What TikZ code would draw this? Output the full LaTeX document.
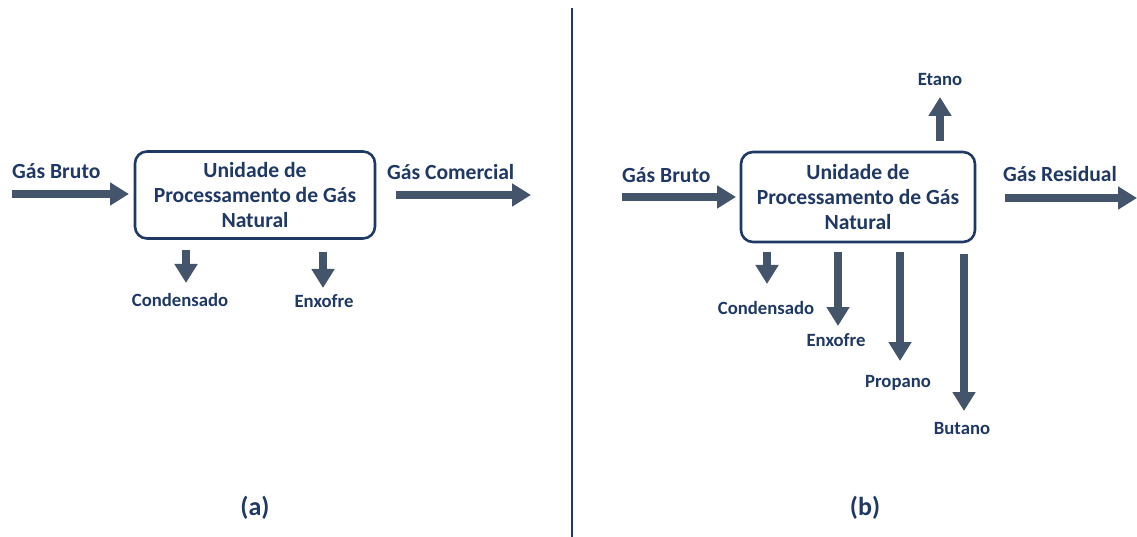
\documentclass[tikz,border=0pt]{standalone}
\usepackage{fontspec}
\setmainfont{Carlito}
\usetikzlibrary{arrows.meta}
\definecolor{navy}{HTML}{1F3864}
\definecolor{slate}{HTML}{44546A}
\tikzset{
  flow/.style={draw=slate, line width=8pt,
    -{Triangle[length=19pt,width=22pt]}},
  unit/.style={draw=navy, line width=2.6pt, rounded corners=12pt,
    align=center, text=navy, font=\fontsize{21.6}{25}\selectfont\bfseries,
    inner sep=0pt},
  biglabel/.style={text=navy, font=\fontsize{21.6}{25}\selectfont\bfseries, inner sep=0pt},
  smalllabel/.style={text=navy, font=\fontsize{18.7}{22}\selectfont\bfseries, inner sep=0pt},
  panel/.style={text=navy, font=\fontsize{26}{30}\selectfont\bfseries, inner sep=0pt}
}
\begin{document}
\begin{tikzpicture}[x=1pt,y=-1pt]
\useasboundingbox (0,0) rectangle (1137,537);

% ---------- (a) ----------
\node[unit, minimum width=240pt, minimum height=87pt] (ua) at (255,195)
  {Unidade de\\Processamento de Gás\\Natural};
\node[biglabel, anchor=base west] (ina) at (12,179) {Gás Bruto};
\node[biglabel, anchor=base west] (outa) at (387,180) {Gás Comercial};
\node[smalllabel, anchor=base] (conda) at (180,306) {Condensado};
\node[smalllabel, anchor=base] (enxa) at (324,307) {Enxofre};
\node[panel] (la) at (255,508) {(a)};

\coordinate (ina0) at (12,194);   \coordinate (ina1) at (129,194);
\coordinate (outa0) at (396,195); \coordinate (outa1) at (531,195);
\coordinate (conda0) at (186,250); \coordinate (conda1) at (186,283);
\coordinate (enxa0) at (323,252);  \coordinate (enxa1) at (323,288);
\draw[flow] (ina0) -- (ina1);
\draw[flow] (outa0) -- (outa1);
\draw[flow] (conda0) -- (conda1);
\draw[flow] (enxa0) -- (enxa1);

% divider
\coordinate (d0) at (572,8); \coordinate (d1) at (572,537);
\draw[navy, line width=2.4pt] (d0) -- (d1);

% ---------- (b) ----------
\node[unit, minimum width=234pt, minimum height=90pt] (ub) at (858,197)
  {Unidade de\\Processamento de Gás\\Natural};
\node[biglabel, anchor=base west] (inb) at (622,183) {Gás Bruto};
\node[biglabel, anchor=base west] (outb) at (1003,182) {Gás Residual};
\node[smalllabel, anchor=base] (etb) at (940,86) {Etano};
\node[smalllabel, anchor=base] (condb) at (766,314) {Condensado};
\node[smalllabel, anchor=base] (enxb) at (836,346) {Enxofre};
\node[smalllabel, anchor=base] (prob) at (898,387) {Propano};
\node[smalllabel, anchor=base] (butb) at (962,434) {Butano};
\node[panel] (lb) at (865,508) {(b)};

\coordinate (inb0) at (622,197);   \coordinate (inb1) at (736,197);
\coordinate (outb0) at (1005,198); \coordinate (outb1) at (1137,198);
\coordinate (etb0) at (940,141);   \coordinate (etb1) at (940,97);
\coordinate (condb0) at (767,252); \coordinate (condb1) at (767,284);
\coordinate (enxb0) at (838,252);  \coordinate (enxb1) at (838,326);
\coordinate (prob0) at (900,252);  \coordinate (prob1) at (900,361);
\coordinate (butb0) at (964,254);  \coordinate (butb1) at (964,411);
\draw[flow] (inb0) -- (inb1);
\draw[flow] (outb0) -- (outb1);
\draw[flow] (etb0) -- (etb1);
\draw[flow] (condb0) -- (condb1);
\draw[flow] (enxb0) -- (enxb1);
\draw[flow] (prob0) -- (prob1);
\draw[flow] (butb0) -- (butb1);
\end{tikzpicture}
\end{document}
